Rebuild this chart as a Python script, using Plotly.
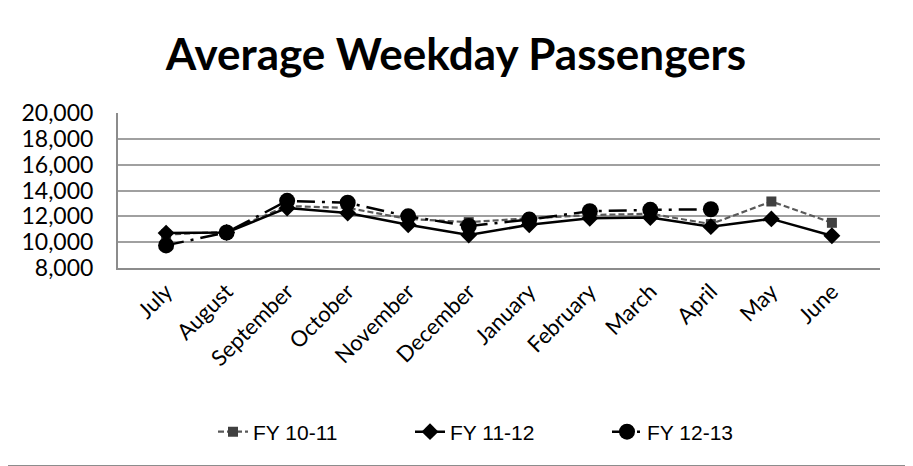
import plotly.graph_objects as go

months = ["July", "August", "September", "October", "November", "December",
          "January", "February", "March", "April", "May", "June"]
fy1011 = [10600, 10800, 12800, 12650, 11800, 11550, 11850, 12100, 12200, 11400, 13150, 11500]
fy1112 = [10700, 10750, 12650, 12250, 11350, 10550, 11350, 11850, 11900, 11200, 11800, 10500]
fy1213 = [9750, 10750, 13200, 13050, 12000, 11250, 11750, 12400, 12500, 12550, None, None]
y_ticks = [8000, 10000, 12000, 14000, 16000, 18000, 20000]

OFF = 8  # page body margin
W, H = 913 - OFF, 466 - OFF
L, R, T, B = 118 - OFF, 880 - OFF, 113 - OFF, 268 - OFF
pw, ph = R - L, B - T

fig = go.Figure()
fig.add_trace(go.Scatter(x=months, y=fy1011, name="FY 10-11", mode="lines+markers",
                         line=dict(color="#595959", width=2.2, dash="6px,3px"),
                         marker=dict(symbol="square", size=10, color="#404040")))
fig.add_trace(go.Scatter(x=months, y=fy1112, name="FY 11-12", mode="lines+markers",
                         line=dict(color="black", width=2.5),
                         marker=dict(symbol="diamond", size=13, color="black")))
fig.add_trace(go.Scatter(x=months, y=fy1213, name="FY 12-13", mode="lines+markers",
                         line=dict(color="black", width=2.5, dash="18px,7px,3px,7px"),
                         marker=dict(symbol="circle", size=16, color="black"),
                         connectgaps=False))

def px_x(p):
    return (p - L) / pw

def px_y(p):
    return (B - p) / ph

fig.update_layout(
    width=W, height=H,
    margin=dict(l=L, r=W - R, t=T, b=H - B, autoexpand=False),
    paper_bgcolor="white", plot_bgcolor="white",
    title=dict(text="<b>Average Weekday Passengers</b>", x=(456 - OFF) / W, xanchor="center",
               y=1 - (55 - OFF) / H, yanchor="middle",
               font=dict(family="Lato, Open Sans, sans-serif", size=44, color="black")),
    xaxis=dict(type="category", categoryorder="array", categoryarray=months,
               tickangle=-45, showgrid=False, showline=True, linecolor="#8c8c8c",
               linewidth=2, ticks="", tickfont=dict(family="Lato, sans-serif", size=22, color="black")),
    yaxis=dict(range=[8000, 20000], tickvals=y_ticks, tickformat=",", showgrid=True,
               gridcolor="#a0a0a0", gridwidth=2, showline=True, linecolor="#8c8c8c",
               linewidth=2, ticks="", zeroline=False, ticklabelstandoff=18,
               tickfont=dict(family="Lato, sans-serif", size=23, color="black")),
    showlegend=True,
    legend=dict(orientation="h", x=px_x(213 - OFF), xanchor="left",
                y=px_y(432 - OFF), yanchor="middle",
                font=dict(family="Liberation Sans, Arial, sans-serif", size=21, color="black"),
                entrywidth=152, bgcolor="rgba(0,0,0,0)"),
    shapes=[
        dict(type="line", xref="paper", yref="paper",
             x0=px_x(W - 1.5), x1=px_x(W - 1.5), y0=px_y(-OFF), y1=px_y(H - 0.5),
             line=dict(color="#8c8c8c", width=1)),
        dict(type="line", xref="paper", yref="paper",
             x0=px_x(-OFF), x1=px_x(W - 1.5), y0=px_y(H - 0.5), y1=px_y(H - 0.5),
             line=dict(color="#8c8c8c", width=1)),
    ],
)

fig.write_html("out.html")
